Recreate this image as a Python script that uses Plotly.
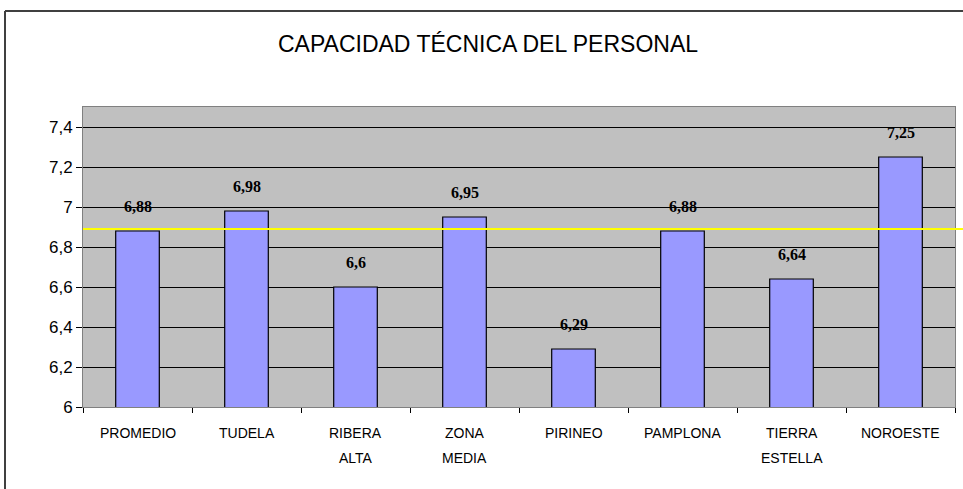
import plotly.graph_objects as go

categories = ["PROMEDIO", "TUDELA", "RIBERA<br>ALTA", "ZONA<br>MEDIA", "PIRINEO", "PAMPLONA", "TIERRA<br>ESTELLA", "NOROESTE"]
values = [6.88, 6.98, 6.6, 6.95, 6.29, 6.88, 6.64, 7.25]
value_labels = ["6,88", "6,98", "6,6", "6,95", "6,29", "6,88", "6,64", "7,25"]
reference_value = 6.89
y_tickvals = [6, 6.2, 6.4, 6.6, 6.8, 7, 7.2, 7.4]
y_ticktext = ["6", "6,2", "6,4", "6,6", "6,8", "7", "7,2", "7,4"]
title_text = "CAPACIDAD TÉCNICA DEL PERSONAL"

W, H = 963, 489
L, R, T, B = 83, 8, 107, 82

xpos = list(range(len(categories)))

fig = go.Figure()
fig.add_trace(go.Bar(
    x=xpos, y=values, width=0.4,
    marker=dict(color="#9999FF", line=dict(color="black", width=1.2)),
    hoverinfo="skip",
))

pw = W - L - R
ph = H - T - B
def px_to_paper_x(px):
    return (px - L) / pw
def px_to_paper_y(py):
    return (H - B - py) / ph

shapes = [
    dict(type="line", xref="paper", yref="y", x0=0, x1=px_to_paper_x(965), y0=reference_value, y1=reference_value,
         line=dict(color="#FFFF00", width=2), layer="above"),
    dict(type="line", xref="paper", yref="paper", x0=px_to_paper_x(5), x1=px_to_paper_x(965),
         y0=px_to_paper_y(11), y1=px_to_paper_y(11), line=dict(color="#404040", width=2)),
    dict(type="line", xref="paper", yref="paper", x0=px_to_paper_x(5), x1=px_to_paper_x(5),
         y0=px_to_paper_y(11), y1=px_to_paper_y(492), line=dict(color="#404040", width=2)),
]

annotations = []
for i, (v, t) in enumerate(zip(values, value_labels)):
    annotations.append(dict(x=i, y=v, xref="x", yref="y", text="<b>" + t + "</b>", showarrow=False,
                            yanchor="middle", yshift=25,
                            font=dict(family="Liberation Serif, Times New Roman, serif", size=16, color="black")))
for i, c in enumerate(categories):
    for j, line in enumerate(c.split("<br>")):
        annotations.append(dict(x=i, y=0, xref="x", yref="paper", text=line, showarrow=False,
                                yanchor="middle", yshift=-(26 + 25 * j), align="center",
                                font=dict(family="Liberation Sans Narrow, Arial Narrow, Arial, sans-serif", size=14, color="black")))

fig.update_layout(
    width=W, height=H,
    margin=dict(l=L, r=R, t=T, b=B),
    paper_bgcolor="white", plot_bgcolor="#C0C0C0",
    showlegend=False,
    title=dict(text=title_text, x=488 / W, xanchor="center",
               y=1 - 44 / H, yanchor="middle",
               font=dict(family="Liberation Sans Narrow, Arial Narrow, Arial, sans-serif", size=23, color="black")),
    xaxis=dict(type="linear", showgrid=False, ticks="outside", ticklen=5, tickcolor="black",
               tickmode="array", tickvals=[i + 0.5 for i in range(-1, len(categories))],
               ticktext=[""] * (len(categories) + 1),
               showline=True, linecolor="#808080", linewidth=1, mirror=True,
               range=[-0.5, len(categories) - 0.5], zeroline=False),
    yaxis=dict(range=[6, 7.5], tickvals=y_tickvals, ticktext=y_ticktext,
               showgrid=True, gridcolor="black", gridwidth=1,
               ticks="outside", ticklen=6, tickcolor="black",
               showline=True, linecolor="#808080", linewidth=1, mirror=True,
               tickfont=dict(family="Arial, Liberation Sans, sans-serif", size=17, color="black"), zeroline=False),
    shapes=shapes,
    annotations=annotations,
)

fig.write_html("out.html", config={"displayModeBar": False},
               post_script="document.body.style.margin='0';document.body.style.overflow='hidden';")
